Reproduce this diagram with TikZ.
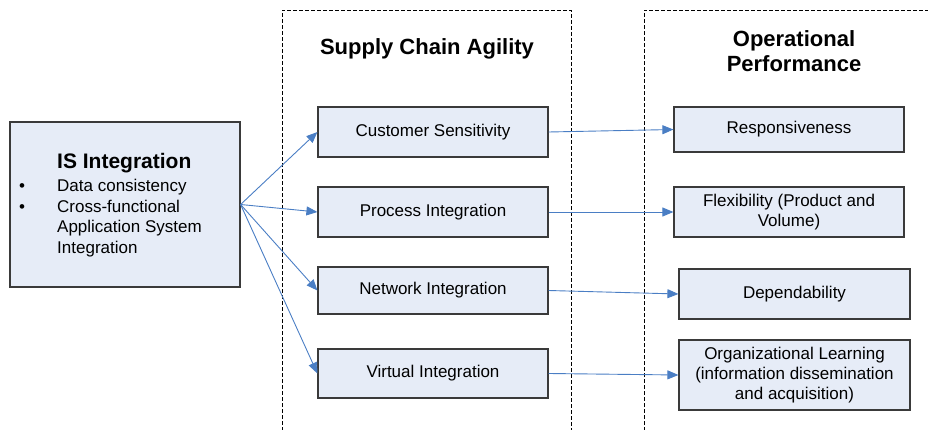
\documentclass[tikz,border=0pt]{standalone}
\usepackage{fontspec}
\setmainfont{Liberation Sans}
\usetikzlibrary{arrows.meta}
\definecolor{boxfill}{HTML}{E6ECF7}
\definecolor{boxline}{HTML}{3A3A3A}
\definecolor{arrowblue}{HTML}{4A7EC4}
\tikzset{
  box/.style={draw=boxline, line width=1.2pt, fill=boxfill, rectangle, inner sep=0pt,
              align=center, font=\fontsize{17}{20}\selectfont},
  conn/.style={draw=arrowblue, line width=0.9pt, -{Triangle[length=11pt,width=9pt]}},
  region/.style={draw=black, line width=0.8pt, dash pattern=on 4pt off 2pt},
  heading/.style={font=\fontsize{22}{25}\selectfont\bfseries, align=center, inner sep=0pt}
}
\begin{document}
\begin{tikzpicture}[x=1pt,y=-1pt]
\useasboundingbox (0,0) rectangle (928,430);
% dashed regions
\coordinate (r1a) at (282,431);
\coordinate (r1b) at (282,10);
\coordinate (r1c) at (571,10);
\coordinate (r1d) at (571,431);
\draw[region] (r1a) -- (r1b) -- (r1c) -- (r1d);
\coordinate (r2a) at (644,431);
\coordinate (r2b) at (644,10);
\coordinate (r2c) at (929,10);
\draw[region] (r2a) -- (r2b) -- (r2c);
% headings
\node[heading, anchor=base] (h1) at (427,55) {Supply Chain Agility};
\node[heading, anchor=base] (h2a) at (794,47) {Operational};
\node[heading, anchor=base] (h2b) at (794,72) {Performance};
% IS box
\node[box, minimum width=230pt, minimum height=165pt] (is) at (125,204.5) {};
\node[anchor=base west, inner sep=0pt, font=\fontsize{21}{24}\selectfont\bfseries] (istitle) at (57,169) {IS Integration};
\node[anchor=base, inner sep=0pt, font=\fontsize{17}{20}\selectfont] (b1) at (22,192) {•};
\node[anchor=base, inner sep=0pt, font=\fontsize{17}{20}\selectfont] (b2) at (22,212.5) {•};
\node[anchor=base west, inner sep=0pt, font=\fontsize{17}{20}\selectfont] (t1) at (57,192) {Data consistency};
\node[anchor=base west, inner sep=0pt, font=\fontsize{17}{20}\selectfont] (t2) at (57,212.5) {Cross-functional};
\node[anchor=base west, inner sep=0pt, font=\fontsize{17}{20}\selectfont] (t3) at (57,233) {Application System};
\node[anchor=base west, inner sep=0pt, font=\fontsize{17}{20}\selectfont] (t4) at (57,253.5) {Integration};
% middle boxes
\node[box, minimum width=230pt, minimum height=50pt] (cs) at (433,132) {Customer Sensitivity};
\node[box, minimum width=230pt, minimum height=50pt] (pi) at (433,212) {Process Integration};
\node[box, minimum width=230pt, minimum height=47pt] (ni) at (433,290.5) {Network Integration};
\node[box, minimum width=230pt, minimum height=49pt] (vi) at (433,373.5) {Virtual Integration};
% right boxes
\node[box, minimum width=230pt, minimum height=45pt] (re) at (789,129.5) {Responsiveness};
\node[box, minimum width=230pt, minimum height=50pt] (fl) at (789,212) {Flexibility (Product and\\Volume)};
\node[box, minimum width=231pt, minimum height=50pt] (de) at (794.5,294) {Dependability};
\node[box, minimum width=231pt, minimum height=70pt] (ol) at (794.5,375) {Organizational Learning\\(information dissemination\\and acquisition)};
% connectors
\draw[conn] (is.east) -- (cs.west);
\draw[conn] (is.east) -- (pi.west);
\draw[conn] (is.east) -- (ni.west);
\draw[conn] (is.east) -- (vi.west);
\draw[conn] (cs.east) -- (re.west);
\draw[conn] (pi.east) -- (fl.west);
\draw[conn] (ni.east) -- (de.west);
\draw[conn] (vi.east) -- (ol.west);
\end{tikzpicture}
\end{document}
